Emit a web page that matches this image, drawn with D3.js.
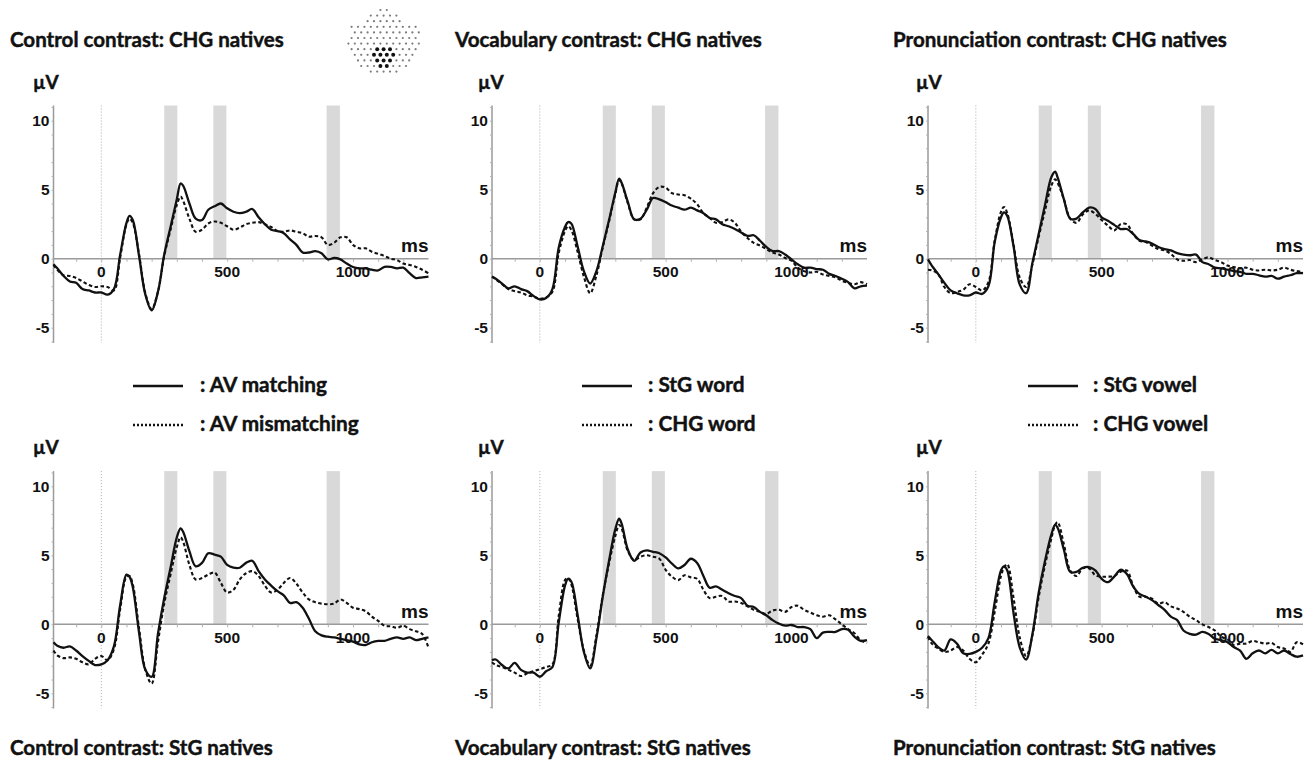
<!DOCTYPE html>
<html><head><meta charset="utf-8">
<script src="https://cdn.jsdelivr.net/npm/d3@7"></script>
<style>body{margin:0;background:#fff}svg{display:block}</style>
</head><body>
<svg id="c" width="1312" height="760"></svg>
<script>
// ---------- data ----------
const times = [-190,-175,-150,-125,-100,-75,-50,-25,0,25,50,75,100,112,125,150,175,200,225,250,275,300,315,325,
  350,375,400,425,450,475,500,525,550,575,600,625,650,675,700,725,750,775,800,825,850,875,900,925,950,975,
  1000,1025,1050,1075,1100,1125,1150,1175,1200,1225,1250,1275,1300];
const yTickValues = [-5,0,5,10];
const xTickValues = [0,500,1000];
const sigStart = [250,445,895];
const sigEnd = [302,497,948];
const topTitles = ["Control contrast: CHG natives","Vocabulary contrast: CHG natives","Pronunciation contrast: CHG natives"];
const bottomTitles = ["Control contrast: StG natives","Vocabulary contrast: StG natives","Pronunciation contrast: StG natives"];
const legendSolid = ["AV matching","StG word","StG vowel"];
const legendDashed = ["AV mismatching","CHG word","CHG vowel"];

// Control contrast, CHG natives
const ctrlChgMatch = [-0.4,-0.7,-1.25,-1.65,-1.75,-2.2,-2.3,-2.45,-2.45,-2.6,-2.2,0.3,2.6,3.1,2.8,0.2,-2.6,-3.75,-2.4,0.3,2.3,4.3,5.45,5.3,
  4.0,2.9,2.8,3.55,3.8,4.0,3.65,3.4,3.3,3.4,3.6,3.0,2.5,2.1,2.0,1.85,1.4,1.0,0.45,0.45,0.55,0.4,-0.05,0.05,-0.05,-0.35,
  -0.6,-0.7,-0.7,-0.8,-0.85,-0.6,-0.6,-0.7,-0.65,-1.05,-1.4,-1.35,-1.3];
const ctrlChgMismatch = [-0.45,-0.8,-1.2,-1.25,-1.4,-1.65,-1.9,-2.05,-2.0,-2.05,-2.3,0.1,2.5,2.9,2.6,0.3,-2.5,-3.65,-2.4,0.2,2.1,3.9,4.5,4.2,
  2.9,1.95,2.1,2.55,2.7,2.6,2.35,2.1,2.25,2.5,2.6,2.65,2.5,2.3,2.0,1.95,2.05,1.95,1.85,1.6,1.65,1.55,1.0,1.15,1.55,1.55,
  1.0,0.75,0.75,0.5,0.35,0.2,0.0,-0.1,-0.35,-0.45,-0.6,-0.8,-1.05];
// Vocabulary contrast, CHG natives
const vocChgStg = [-1.3,-1.45,-1.8,-2.15,-2.0,-2.2,-2.35,-2.7,-2.95,-2.85,-2.2,0.8,2.3,2.65,2.55,0.9,-0.9,-1.8,-0.9,0.9,2.8,4.8,5.8,5.5,
  4.1,2.85,2.9,3.55,4.4,4.3,4.1,3.85,3.7,3.55,3.7,3.5,3.3,2.95,2.85,2.5,2.35,2.15,1.9,1.65,1.7,1.3,0.85,0.55,0.55,0.3,
  -0.05,-0.4,-0.65,-0.65,-0.75,-0.8,-1.1,-1.25,-1.45,-1.7,-2.15,-2.0,-1.95];
const vocChgChg = [-1.3,-1.5,-1.85,-2.2,-2.35,-2.45,-2.65,-2.75,-2.9,-2.8,-2.4,0.4,2.0,2.35,2.1,0.5,-1.3,-2.5,-1.2,0.8,2.7,4.7,5.7,5.45,
  4.0,2.85,2.85,3.7,4.75,5.2,5.15,4.75,4.65,4.6,4.35,3.95,3.3,2.95,2.6,2.65,2.85,2.6,1.95,1.5,1.15,0.95,0.7,0.45,0.3,0.05,
  -0.15,-0.65,-0.9,-1.0,-0.95,-1.15,-1.25,-1.35,-1.6,-1.75,-1.85,-1.7,-1.85];
// Pronunciation contrast, CHG natives
const proChgStg = [-0.05,-0.5,-1.1,-1.75,-2.3,-2.5,-2.65,-2.65,-2.45,-2.55,-2.0,1.2,3.0,3.35,3.1,0.9,-1.9,-2.5,-0.3,1.8,3.9,5.9,6.3,5.9,
  4.3,2.9,2.9,3.35,3.7,3.6,3.0,2.75,2.45,2.15,2.15,1.8,1.35,1.25,1.1,0.85,0.7,0.6,0.4,0.3,0.25,0.3,-0.25,-0.4,-0.65,-0.7,
  -0.8,-0.9,-0.95,-1.1,-1.1,-1.2,-1.3,-1.25,-1.45,-1.3,-1.2,-1.05,-1.05];
const proChgChg = [-0.8,-0.85,-1.1,-2.05,-2.5,-2.4,-2.25,-1.85,-2.05,-2.3,-1.7,1.3,3.4,3.75,3.3,1.0,-1.4,-2.05,-0.4,1.6,3.5,5.3,5.75,5.5,
  4.3,2.9,2.6,3.2,3.5,3.25,2.8,2.4,2.05,2.5,2.5,1.8,1.3,1.2,0.95,0.7,0.6,0.35,-0.05,-0.15,-0.1,-0.25,-0.05,0.1,-0.1,-0.25,
  -0.5,-0.6,-0.7,-0.65,-0.8,-0.85,-0.8,-0.85,-0.8,-0.65,-0.8,-0.9,-0.95];
// Control contrast, StG natives
const ctrlStgMatch = [-1.3,-1.55,-1.7,-1.6,-1.9,-2.3,-2.65,-2.95,-2.9,-2.6,-1.6,1.4,3.6,3.45,2.7,-0.6,-3.3,-3.8,-0.7,1.9,4.1,6.3,6.95,6.7,
  5.3,4.2,4.45,5.15,5.05,4.9,4.3,4.1,4.1,4.45,4.6,3.85,3.25,2.8,2.4,2.1,1.55,1.6,1.2,0.4,-0.5,-0.8,-0.9,-0.95,-1.05,-1.15,
  -1.25,-1.45,-1.5,-1.3,-1.2,-1.2,-1.05,-0.95,-1.05,-0.95,-1.15,-1.05,-0.95];
const ctrlStgMismatch = [-1.9,-2.25,-2.45,-2.4,-2.5,-2.75,-2.9,-2.5,-2.3,-2.6,-1.8,1.1,3.45,3.5,2.9,-0.3,-3.3,-4.3,-1.3,1.5,3.6,5.6,6.3,6.0,
  4.3,3.25,3.35,3.6,3.75,3.0,2.3,2.5,3.25,3.7,3.85,3.5,2.8,2.3,2.5,3.0,3.35,2.95,2.3,1.8,1.6,1.5,1.45,1.5,1.8,1.55,
  1.2,1.1,0.95,0.55,0.25,-0.1,-0.15,-0.25,-0.1,-0.35,-0.5,-0.7,-1.7];
// Vocabulary contrast, StG natives
const vocStgStg = [-2.6,-2.55,-2.95,-3.2,-2.8,-3.3,-3.5,-3.5,-3.8,-3.4,-3.1,0.1,2.8,3.3,3.1,0.7,-2.0,-3.2,-1.0,2.0,4.6,6.9,7.65,7.3,
  5.4,4.6,5.2,5.35,5.25,5.15,4.85,4.4,4.05,4.3,4.75,4.45,3.5,2.65,2.75,2.5,2.25,2.05,1.9,1.35,1.25,0.9,0.65,0.3,0.05,-0.1,
  -0.05,-0.2,-0.2,-0.35,-1.0,-0.6,-0.55,-0.55,-0.35,-0.4,-0.9,-1.2,-1.15];
const vocStgChg = [-2.75,-2.95,-3.1,-3.3,-3.5,-3.75,-3.55,-3.4,-3.25,-3.1,-2.9,0.6,3.2,3.35,2.9,0.4,-1.9,-3.0,-0.8,2.1,4.4,6.4,7.2,6.95,
  5.3,4.65,4.9,5.0,4.9,4.75,3.95,3.45,3.2,3.55,3.4,3.3,2.5,1.9,2.0,2.05,1.65,1.65,1.55,1.3,1.05,0.9,0.75,1.0,1.05,0.9,
  1.25,1.35,1.05,0.85,0.65,0.55,0.65,0.35,0.0,-0.35,-0.65,-1.15,-1.35];
// Pronunciation contrast, StG natives
const proStgStg = [-0.85,-1.15,-1.65,-1.9,-1.1,-1.4,-2.1,-2.15,-2.0,-1.7,-1.0,1.6,3.9,4.2,3.9,0.8,-1.7,-2.55,-0.7,2.3,4.6,6.5,7.2,7.0,
  5.4,3.8,3.8,4.1,4.15,3.9,3.3,3.05,3.45,3.95,3.65,2.75,2.2,2.0,1.75,1.4,1.05,0.55,0.3,-0.45,-0.7,-0.75,-0.55,-0.7,-1.05,-1.15,
  -1.3,-1.65,-1.9,-2.5,-2.1,-1.9,-2.1,-1.85,-2.1,-1.9,-2.15,-2.35,-2.25];
const proStgChg = [-0.9,-1.4,-1.75,-2.0,-1.9,-1.65,-1.9,-2.5,-2.75,-2.2,-1.4,0.9,3.5,4.1,4.35,1.9,-1.0,-2.3,-0.8,2.0,4.3,6.2,7.2,7.4,
  5.8,3.9,3.5,4.05,4.05,3.55,3.45,3.45,3.5,3.8,3.9,2.8,2.0,2.0,1.85,1.5,1.6,1.3,1.15,0.9,0.55,0.3,0.0,-0.2,-0.45,-0.9,
  -1.1,-1.5,-1.4,-1.4,-1.2,-1.3,-1.4,-1.35,-1.65,-1.75,-2.0,-1.3,-1.45];

const panels = [
  {col:0,row:0,solid:ctrlChgMatch,dashed:ctrlChgMismatch},
  {col:1,row:0,solid:vocChgStg,dashed:vocChgChg},
  {col:2,row:0,solid:proChgStg,dashed:proChgChg},
  {col:0,row:1,solid:ctrlStgMatch,dashed:ctrlStgMismatch},
  {col:1,row:1,solid:vocStgStg,dashed:vocStgChg},
  {col:2,row:1,solid:proStgStg,dashed:proStgChg}
];

// ---------- layout ----------
const colLeft = [53.5, 492, 928];
const uvX = [33, 478, 916];
const rowZero = [258.7, 624.3];
const plotW = 375;
const pxPerUV = 13.8;
const yMin = -6.1, yMax = 11.1;
const titleX = [10, 455, 893];
const legLineX = [133, 582, 1028];
const legTextX = [200, 648, 1093];

const svg = d3.select("#c");
const tickFont = "'Liberation Sans', Arial, sans-serif";
const labelFont = "Lato, 'Open Sans', sans-serif";
const ink = "#111";

function boldText(sel){
  return sel.attr("font-family",labelFont).attr("font-weight",700).attr("fill",ink)
    .attr("stroke",ink).attr("stroke-width",0.45).attr("paint-order","stroke");
}

panels.forEach(p => {
  const left = colLeft[p.col], zero = rowZero[p.row];
  const x = d3.scaleLinear().domain([-190,1300]).range([left, left+plotW]);
  const y = d3.scaleLinear().domain([yMin,yMax]).range([zero - yMin*pxPerUV, zero - yMax*pxPerUV]);
  const g = svg.append("g");

  // significance bars
  g.selectAll("rect.sig").data(sigStart).join("rect")
    .attr("x", d=>x(d)).attr("width",(d,i)=>x(sigEnd[i])-x(d))
    .attr("y", y(yMax)).attr("height", y(0)-y(yMax))
    .attr("fill","#d9d9d9");

  // zero-time dotted line
  g.append("line").attr("x1",x(0)).attr("x2",x(0)).attr("y1",y(yMax)).attr("y2",y(yMin))
    .attr("stroke","#aaa").attr("stroke-width",1).attr("stroke-dasharray","1,2");

  // x axis (zero line)
  const xAxis = d3.axisBottom(x).tickValues(d3.range(-100,1300,100)).tickSize(3).tickFormat("");
  const xa = g.append("g").attr("transform",`translate(0,${y(0)})`).call(xAxis);
  xa.select(".domain").attr("stroke","#9a9a9a").attr("stroke-width",1.5).attr("d",`M${left},0H${left+plotW}`);
  xa.selectAll(".tick line").attr("stroke","#b0b0b0");
  g.selectAll("text.xt").data(xTickValues).join("text")
    .attr("x",d=>x(d)).attr("y",y(0)+18.5).attr("text-anchor","middle")
    .attr("font-family",tickFont).attr("font-weight","bold").attr("font-size",15.5).attr("fill",ink)
    .text(d=>d);

  // y axis
  const yAxis = d3.axisLeft(y).tickValues(d3.range(-6,12,1)).tickSize(2).tickFormat("");
  const ya = g.append("g").attr("transform",`translate(${left},0)`).call(yAxis);
  ya.select(".domain").attr("stroke","#9a9a9a").attr("stroke-width",1.5).attr("d",`M0,${y(yMax)}V${y(yMin)}`);
  ya.selectAll(".tick line").attr("stroke","#b0b0b0");
  g.selectAll("text.yt").data(yTickValues).join("text")
    .attr("x",left-4).attr("y",d=>y(d)).attr("dy","0.36em").attr("text-anchor","end")
    .attr("font-family",tickFont).attr("font-weight","bold").attr("font-size",15.5).attr("fill",ink)
    .text(d=>d);

  // axis labels
  g.append("text").attr("x",left+plotW).attr("y",y(0)-6.5).attr("text-anchor","end")
    .attr("font-family",tickFont).attr("font-weight","bold").attr("font-size",19).attr("fill",ink).text("ms");
  boldText(g.append("text").attr("x",uvX[p.col]).attr("y",zero-170).attr("font-size",19)).text("µV");

  // curves
  const line = d3.line().x((d,i)=>x(times[i])).y(d=>y(d)).curve(d3.curveCatmullRom.alpha(0.5));
  g.append("path").attr("d",line(p.dashed)).attr("fill","none").attr("stroke",ink)
    .attr("stroke-width",2.1).attr("stroke-dasharray","3.5,2.5");
  g.append("path").attr("d",line(p.solid)).attr("fill","none").attr("stroke",ink)
    .attr("stroke-width",2.3);
});

// ---------- titles ----------
function fitSize(sel, target){
  const w = sel.node().getComputedTextLength();
  return parseFloat(sel.attr("font-size")) * target / w;
}
const t0 = svg.append("text").attr("x",0).attr("y",-50).attr("font-family",labelFont)
  .attr("font-weight",700).attr("font-size",20).text(topTitles[0]);
const titleSize = fitSize(t0, 274);
t0.remove();
topTitles.forEach((t,i)=>{
  boldText(svg.append("text").attr("x",titleX[i]).attr("y",47).attr("font-size",titleSize)).text(t);
});
bottomTitles.forEach((t,i)=>{
  boldText(svg.append("text").attr("x",titleX[i]).attr("y",755).attr("font-size",titleSize)).text(t);
});

// ---------- legends ----------
const l0 = svg.append("text").attr("x",0).attr("y",-50).attr("font-family",labelFont)
  .attr("font-weight",700).attr("font-size",20).text(": " + legendSolid[0]);
const legSize = fitSize(l0, 127);
l0.remove();
[0,1,2].forEach(i=>{
  svg.append("line").attr("x1",legLineX[i]).attr("x2",legLineX[i]+50).attr("y1",386).attr("y2",386)
    .attr("stroke",ink).attr("stroke-width",2.6);
  boldText(svg.append("text").attr("x",legTextX[i]).attr("y",392).attr("font-size",legSize)).text(": " + legendSolid[i]);
  svg.append("line").attr("x1",legLineX[i]).attr("x2",legLineX[i]+50).attr("y1",425).attr("y2",425)
    .attr("stroke",ink).attr("stroke-width",2.3).attr("stroke-dasharray","2,2");
  boldText(svg.append("text").attr("x",legTextX[i]).attr("y",431).attr("font-size",legSize)).text(": " + legendDashed[i]);
});

// ---------- electrode map icon ----------
const head = svg.append("g");
const hc = [384, 42];
const elec = [];
for (let r = 0; r < 12; r++) {
  const yy = 10 + r * 5.6;
  const dy = (yy - hc[1]) / 34;
  let half = 37 * Math.sqrt(Math.max(0, 1 - dy*dy));
  if (yy < 24) half *= 0.7;
  const off = (r % 2) * 3.2;
  for (let xx = hc[0] - 42 + off; xx <= hc[0] + 42; xx += 6.4) {
    if (Math.abs(xx - hc[0]) <= half) elec.push([xx, yy]);
  }
}
const inCluster = d => Math.hypot(d[0]-384, (d[1]-58)) < 11.5;
head.selectAll("circle").data(elec).join("circle")
  .attr("cx",d=>d[0]).attr("cy",d=>d[1])
  .attr("r",d=>inCluster(d) ? 2.0 : 1.1)
  .attr("fill",d=>inCluster(d) ? "#111" : "#7a7a7a");
</script>
</body></html>
